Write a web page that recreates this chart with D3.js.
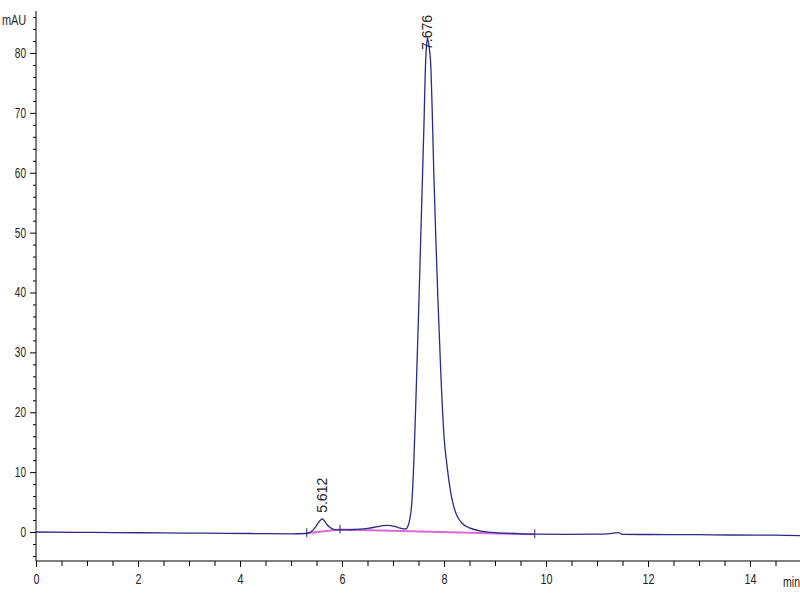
<!DOCTYPE html>
<html><head><meta charset="utf-8">
<script src="https://cdn.jsdelivr.net/npm/d3@7"></script>
<style>
body{margin:0;background:#fff;}
text{font-family:"Liberation Sans",Arial,sans-serif;}
</style></head>
<body>
<svg id="c" width="800" height="600"></svg>
<script>
// Retention time (min) and absorbance (mAU)
const times  = [0, 0.8, 1.5, 2.5, 3.3, 4.2, 5.0, 5.3, 5.4, 5.47, 5.53, 5.58, 5.612, 5.65, 5.7, 5.76, 5.84, 5.95, 6.1, 6.3, 6.5, 6.7, 6.8, 6.9, 7.0, 7.1, 7.18, 7.25, 7.29, 7.33, 7.37, 7.41, 7.46, 7.51, 7.56, 7.61, 7.63, 7.655, 7.676, 7.70, 7.74, 7.77, 7.80, 7.84, 7.88, 7.94, 8.0, 8.06, 8.12, 8.18, 8.25, 8.35, 8.5, 8.7, 9.0, 9.4, 9.8, 10.4, 11.0, 11.2, 11.35, 11.42, 11.5, 12.0, 13.0, 13.6, 14.5, 15.0];
const values = [0, -0.05, -0.1, -0.15, -0.2, -0.25, -0.3, -0.25, 0.1, 0.7, 1.5, 2.0, 2.2, 1.9, 1.3, 0.8, 0.45, 0.35, 0.35, 0.45, 0.6, 0.9, 1.05, 1.1, 1.0, 0.75, 0.55, 0.5, 0.9, 2.2, 5, 12, 25, 39, 54, 69, 76, 81, 82.5, 81.5, 78, 70, 60, 49, 39, 26, 16, 11, 7.2, 4.6, 2.8, 1.5, 0.7, 0.2, -0.1, -0.25, -0.35, -0.38, -0.35, -0.3, -0.15, -0.1, -0.4, -0.42, -0.45, -0.5, -0.52, -0.6];

// Integration baseline (magenta) and peak markers
const baseT = [5.31, 5.96, 9.78];
const baseV = [-0.2, 0.4, -0.38];
const peakLabels = ["5.612", "7.676"];
const peakTimes  = [5.612, 7.676];
const peakHeights= [2.2, 82.5];

const xMajor = [0, 2, 4, 6, 8, 10, 12, 14];
const yMajor = [0, 10, 20, 30, 40, 50, 60, 70, 80];

const svg = d3.select("#c");
const x = d3.scaleLinear().domain([0, 14]).range([36, 750]);
const y = d3.scaleLinear().domain([0, 80]).range([532, 53]);
const axisY = 561, axisTop = 11, xEnd = 800;

function condense(sel, k) {
  sel.each(function () {
    const t = d3.select(this);
    const xx = +t.attr("x") || 0;
    t.attr("x", xx / k).attr("transform", `scale(${k},1)`);
  });
}

// Axes lines
svg.append("line").attr("x1", 36).attr("x2", 36).attr("y1", axisTop).attr("y2", axisY).attr("stroke", "#000");
svg.append("line").attr("x1", 36).attr("x2", xEnd).attr("y1", axisY).attr("y2", axisY).attr("stroke", "#000");

// Y ticks
const yMinor = d3.range(-4, 87, 2).filter(v => v % 10 !== 0);
const gyMinor = svg.append("g").attr("transform", "translate(36,0)")
  .call(d3.axisLeft(y).tickValues(yMinor).tickSize(3).tickFormat(""));
gyMinor.select(".domain").remove();
const gy = svg.append("g").attr("transform", "translate(36,0)")
  .call(d3.axisLeft(y).tickValues(yMajor).tickSize(6).tickPadding(4).tickFormat(d3.format("d")));
gy.select(".domain").remove();
gy.selectAll("text").attr("font-size", 14).attr("fill", "#222");
condense(gy.selectAll("text"), 0.72);

// X ticks
const xMinor = d3.range(0.5, 15.01, 0.5).filter(v => v % 2 !== 0);
const gxMinor = svg.append("g").attr("transform", `translate(0,${axisY})`)
  .call(d3.axisBottom(x).tickValues(xMinor).tickSize(5).tickFormat(""));
gxMinor.select(".domain").remove();
const gx = svg.append("g").attr("transform", `translate(0,${axisY})`)
  .call(d3.axisBottom(x).tickValues(xMajor).tickSize(6).tickPadding(6).tickFormat(d3.format("d")));
gx.select(".domain").remove();
gx.selectAll("text").attr("font-size", 15).attr("fill", "#222");
condense(gx.selectAll("text"), 0.72);

svg.append("text").attr("x", 2 / 0.78).attr("y", 25).attr("font-size", 14).attr("fill", "#222")
  .attr("transform", "scale(0.78,1)").text("mAU");
svg.append("text").attr("x", 800 / 0.7).attr("y", 587).attr("font-size", 15).attr("fill", "#222")
  .attr("text-anchor", "end").attr("transform", "scale(0.7,1)").text("min");

// Integration baseline
const baseData = baseT.map((t, i) => [t, baseV[i]]);
svg.append("path").datum(baseData)
  .attr("fill", "none").attr("stroke", "#d24fd2").attr("stroke-width", 2).attr("opacity", 0.85)
  .attr("d", d3.line().x(d => x(d[0])).y(d => y(d[1])));
svg.selectAll(".bm").data(baseData).enter().append("line")
  .attr("x1", d => x(d[0])).attr("x2", d => x(d[0]))
  .attr("y1", d => y(d[1]) - 5).attr("y2", d => y(d[1]) + 4)
  .attr("stroke", "#2a2a5a").attr("stroke-width", 1);

// Signal
const sig = times.map((t, i) => [t, values[i]]);
svg.append("path").datum(sig)
  .attr("fill", "none").attr("stroke", "#2b2b86").attr("stroke-width", 1.3)
  .attr("d", d3.line().curve(d3.curveMonotoneX).x(d => x(d[0])).y(d => y(d[1])));

// Peak labels (small peak: above apex; main peak: overlapping the apex)
const labelShift = [-6, 12];
svg.selectAll(".pl").data(peakLabels).enter().append("text")
  .attr("transform", (d, i) => `translate(${x(peakTimes[i]) + 5},${y(peakHeights[i]) + labelShift[i]}) rotate(-90)`)
  .attr("font-size", 14).attr("fill", "#222").text(d => d);
</script>
</body></html>
